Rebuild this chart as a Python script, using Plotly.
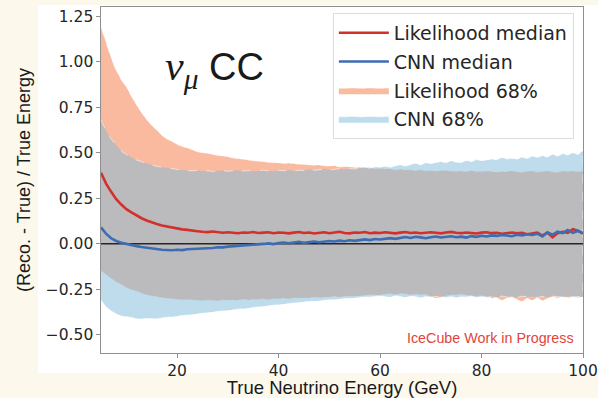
import plotly.graph_objects as go

# True neutrino energy bins (GeV)
energy = list(range(5, 101))

# Median of (reco - true) / true per energy bin
lh_median = [
    0.390, 0.330, 0.285, 0.245, 0.215, 0.190, 0.172, 0.155, 0.140, 0.128,
    0.117, 0.108, 0.100, 0.094, 0.088, 0.082, 0.079, 0.076, 0.071, 0.069,
    0.066, 0.064, 0.067, 0.062, 0.060, 0.063, 0.061, 0.058, 0.062, 0.060,
    0.064, 0.059, 0.061, 0.063, 0.058, 0.062, 0.060, 0.057, 0.061, 0.064,
    0.059, 0.062, 0.056, 0.060, 0.063, 0.058, 0.061, 0.066, 0.059, 0.057,
    0.062, 0.060, 0.064, 0.058, 0.061, 0.059, 0.063, 0.060, 0.057, 0.061,
    0.064, 0.059, 0.062, 0.058, 0.061, 0.063, 0.060, 0.057, 0.062, 0.065,
    0.060, 0.058, 0.062, 0.059, 0.056, 0.061, 0.063, 0.058, 0.060, 0.055,
    0.059, 0.062, 0.057, 0.060, 0.052, 0.058, 0.061, 0.045, 0.062, 0.036,
    0.058, 0.066, 0.060, 0.080, 0.072, 0.055,
]
cnn_median = [
    0.090, 0.055, 0.030, 0.015, 0.005, -0.002, -0.008, -0.013, -0.018, -0.022,
    -0.027, -0.030, -0.033, -0.034, -0.036, -0.033, -0.035, -0.030, -0.029, -0.025,
    -0.026, -0.022, -0.023, -0.019, -0.020, -0.016, -0.014, -0.011, -0.012, -0.008,
    -0.004, -0.006, -0.001, 0.002, -0.002, 0.004, 0.006, 0.003, 0.007, 0.010,
    0.005, 0.009, 0.012, 0.008, 0.011, 0.015, 0.012, 0.017, 0.014, 0.019,
    0.016, 0.021, 0.024, 0.020, 0.026, 0.023, 0.028, 0.031, 0.027, 0.033,
    0.037, 0.032, 0.038, 0.035, 0.030, 0.036, 0.040, 0.034, 0.037, 0.041,
    0.036, 0.039, 0.034, 0.042, 0.038, 0.044, 0.040, 0.046, 0.043, 0.048,
    0.045, 0.041, 0.049, 0.046, 0.052, 0.048, 0.055, 0.040, 0.062, 0.050,
    0.066, 0.058, 0.075, 0.060, 0.070, 0.058,
]

# 68% containment band edges
lh_hi = [
    1.190, 1.100, 1.020, 0.950, 0.900, 0.860, 0.810, 0.760, 0.720, 0.680,
    0.650, 0.620, 0.595, 0.575, 0.560, 0.545, 0.535, 0.525, 0.515, 0.505,
    0.500, 0.495, 0.490, 0.485, 0.478, 0.475, 0.470, 0.466, 0.462, 0.460,
    0.455, 0.452, 0.450, 0.448, 0.445, 0.443, 0.440, 0.444, 0.438, 0.435,
    0.437, 0.432, 0.430, 0.433, 0.428, 0.425, 0.428, 0.422, 0.424, 0.420,
    0.418, 0.421, 0.416, 0.418, 0.412, 0.414, 0.410, 0.412, 0.406, 0.409,
    0.404, 0.407, 0.402, 0.405, 0.400, 0.403, 0.398, 0.401, 0.404, 0.399,
    0.396, 0.400, 0.397, 0.402, 0.395, 0.398, 0.400, 0.396, 0.393, 0.398,
    0.395, 0.400, 0.397, 0.392, 0.396, 0.399, 0.394, 0.397, 0.400, 0.395,
    0.393, 0.398, 0.396, 0.401, 0.395, 0.398,
]
lh_lo = [
    -0.150, -0.170, -0.190, -0.210, -0.225, -0.240, -0.252, -0.263, -0.272, -0.280,
    -0.287, -0.292, -0.297, -0.300, -0.303, -0.305, -0.307, -0.309, -0.310, -0.311,
    -0.312, -0.312, -0.310, -0.313, -0.309, -0.311, -0.308, -0.310, -0.306, -0.309,
    -0.305, -0.307, -0.303, -0.306, -0.302, -0.304, -0.300, -0.302, -0.298, -0.300,
    -0.296, -0.298, -0.294, -0.296, -0.292, -0.294, -0.290, -0.292, -0.288, -0.290,
    -0.286, -0.284, -0.286, -0.282, -0.280, -0.282, -0.278, -0.275, -0.279, -0.274,
    -0.277, -0.280, -0.276, -0.282, -0.279, -0.290, -0.300, -0.295, -0.285, -0.280,
    -0.283, -0.278, -0.281, -0.286, -0.290, -0.284, -0.288, -0.300, -0.295, -0.310,
    -0.300, -0.292, -0.305, -0.318, -0.300, -0.310, -0.296, -0.315, -0.300, -0.290,
    -0.300, -0.288, -0.295, -0.292, -0.297, -0.290,
]
cnn_hi = [
    0.680, 0.620, 0.575, 0.540, 0.510, 0.490, 0.475, 0.460, 0.450, 0.440,
    0.432, 0.425, 0.420, 0.416, 0.412, 0.408, 0.405, 0.402, 0.400, 0.403,
    0.398, 0.401, 0.397, 0.400, 0.402, 0.398, 0.400, 0.404, 0.399, 0.402,
    0.397, 0.401, 0.404, 0.400, 0.398, 0.403, 0.401, 0.405, 0.399, 0.404,
    0.402, 0.407, 0.403, 0.406, 0.410, 0.405, 0.409, 0.412, 0.408, 0.414,
    0.410, 0.416, 0.420, 0.415, 0.422, 0.418, 0.425, 0.420, 0.428, 0.433,
    0.427, 0.435, 0.440, 0.432, 0.445, 0.438, 0.447, 0.452, 0.443, 0.455,
    0.448, 0.445, 0.456, 0.450, 0.462, 0.455, 0.458, 0.466, 0.460, 0.472,
    0.465, 0.470, 0.462, 0.475, 0.468, 0.480, 0.472, 0.485, 0.475, 0.490,
    0.480, 0.495, 0.485, 0.500, 0.490, 0.510,
]
cnn_lo = [
    -0.310, -0.345, -0.370, -0.385, -0.395, -0.400, -0.405, -0.410, -0.412, -0.412,
    -0.410, -0.410, -0.408, -0.405, -0.403, -0.400, -0.398, -0.393, -0.390, -0.385,
    -0.382, -0.378, -0.375, -0.370, -0.368, -0.365, -0.360, -0.358, -0.355, -0.350,
    -0.348, -0.345, -0.342, -0.338, -0.335, -0.333, -0.330, -0.328, -0.325, -0.322,
    -0.320, -0.318, -0.315, -0.313, -0.310, -0.308, -0.306, -0.303, -0.300, -0.298,
    -0.296, -0.294, -0.292, -0.290, -0.288, -0.287, -0.288, -0.292, -0.286, -0.290,
    -0.294, -0.287, -0.291, -0.296, -0.289, -0.293, -0.290, -0.287, -0.295, -0.291,
    -0.297, -0.290, -0.293, -0.288, -0.294, -0.290, -0.296, -0.289, -0.292, -0.287,
    -0.293, -0.290, -0.295, -0.288, -0.292, -0.290, -0.296, -0.289, -0.293, -0.287,
    -0.291, -0.294, -0.288, -0.292, -0.290, -0.293,
]

y_ticks = [-0.5, -0.25, 0.0, 0.25, 0.5, 0.75, 1.0, 1.25]
x_ticks = [20, 40, 60, 80, 100]

RED = "#d3302c"
BLUE = "#3c6db3"
ORANGE_FILL = "rgba(244,118,66,0.5)"
BLUE_FILL = "rgba(125,185,217,0.5)"
EDGE = "rgba(255,255,255,0.55)"
CREAM = "#fdf8ec"

fig = go.Figure()


def band(lo, hi, fill, name, rank):
    return go.Scatter(
        x=energy + energy[::-1],
        y=hi + lo[::-1],
        fill="toself",
        fillcolor=fill,
        mode="lines",
        line=dict(color=EDGE, width=1, dash="dash"),
        name=name,
        legendrank=rank,
        legendgroup=name,
        hoverinfo="skip",
    )


fig.add_trace(band(lh_lo, lh_hi, ORANGE_FILL, "Likelihood 68%", 3))
fig.add_trace(band(cnn_lo, cnn_hi, BLUE_FILL, "CNN 68%", 4))

# reference line at zero bias
fig.add_trace(go.Scatter(
    x=[energy[0], energy[-1]], y=[0, 0], mode="lines",
    line=dict(color="#262626", width=1.6), showlegend=False, hoverinfo="skip",
))

fig.add_trace(go.Scatter(
    x=energy, y=lh_median, mode="lines", name="Likelihood median",
    line=dict(color=RED, width=2.6), legendrank=1, legendgroup="lhm",
))
fig.add_trace(go.Scatter(
    x=energy, y=cnn_median, mode="lines", name="CNN median",
    line=dict(color=BLUE, width=2.6), legendrank=2, legendgroup="cnnm",
))

axis_common = dict(
    showline=True, mirror=True, linecolor="#8f8f8f", linewidth=1.3,
    ticks="outside", ticklen=3.5, tickcolor="#8f8f8f", tickwidth=1.2,
    showgrid=False, zeroline=False, automargin=False,
    tickfont=dict(family="DejaVu Sans", size=15.5, color="#262626"),
)

fig.update_layout(
    width=598, height=398,
    margin=dict(l=101, r=15, t=7, b=45),
    paper_bgcolor=CREAM,
    plot_bgcolor="white",
    showlegend=True,
    legend=dict(
        x=0.481, y=0.983, xanchor="left", yanchor="top",
        bgcolor="white", bordercolor="#dcdcdc", borderwidth=1,
        font=dict(family="DejaVu Sans", size=19, color="#262626"),
        tracegroupgap=1, itemwidth=50,
    ),
    xaxis=dict(
        range=[5, 100], tickvals=x_ticks,
        title=dict(text="True Neutrino Energy (GeV)", standoff=6,
                   font=dict(family="Liberation Sans", size=18.5, color="#1a1a1a")),
        **axis_common,
    ),
    yaxis=dict(
        range=[-0.6, 1.3], tickvals=y_ticks, tickformat=".2f",
        title=dict(text="(Reco. - True) / True Energy", standoff=10,
                   font=dict(family="Liberation Sans", size=18, color="#1a1a1a")),
        **axis_common,
    ),
    shapes=[
        dict(type="rect", xref="paper", yref="paper", layer="below",
             x0=-0.131, x1=1.05, y0=-0.058, y1=1.006,
             fillcolor="white", line=dict(width=0)),
    ],
    annotations=[
        dict(
            xref="paper", yref="paper", x=0.129, y=0.822,
            xanchor="left", yanchor="middle", showarrow=False,
            text=("<span style=\"font-family:'Liberation Serif';font-size:42px\"><i>ν</i>"
                  "<sub><i>μ</i></sub></span> CC"),
            font=dict(family="Liberation Sans", size=38, color="#1a1a1a"),
        ),
        dict(
            xref="paper", yref="paper", x=0.985, y=0.043,
            xanchor="right", yanchor="middle", showarrow=False,
            text="IceCube Work in Progress",
            font=dict(family="Liberation Sans", size=14.3, color="#e0453c"),
        ),
    ],
)

fig.write_html("out.html")
